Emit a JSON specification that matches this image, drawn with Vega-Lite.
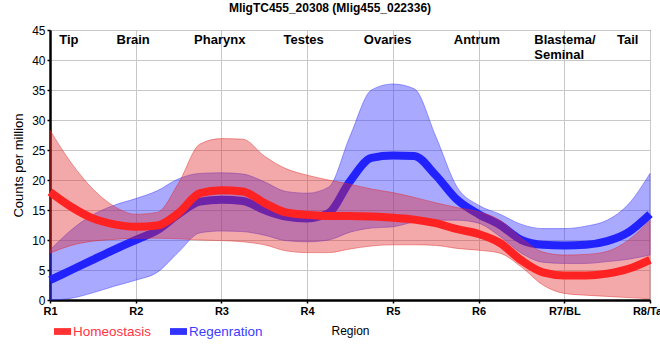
{
  "$schema": "https://vega.github.io/schema/vega-lite/v6.json",
  "width": 600,
  "height": 270,
  "autosize": {"type": "none"},
  "padding": {"left": 50, "top": 30, "right": 10, "bottom": 60},
  "background": "white",
  "config": {
    "font": "Liberation Sans",
    "view": {"stroke": "black", "strokeWidth": 1},
    "axisY": {"tickCount": 10, "labelOverlap": false},
    "axisX": {"labelOverlap": false}
  },
  "title": {
    "text": "MligTC455_20308 (Mlig455_022336)",
    "fontSize": 12,
    "fontWeight": "bold",
    "color": "black",
    "offset": 9,
    "dx": -20,
    "anchor": "middle"
  },
  "datasets": {
    "curves": [
      {"r": 1.0, "s": "Homeostasis", "m": 18.0, "lo": 7.8, "hi": 28.3},
      {"r": 1.25, "s": "Homeostasis", "m": 15.5, "lo": 9.1, "hi": 22.8},
      {"r": 1.5, "s": "Homeostasis", "m": 13.6, "lo": 9.8, "hi": 18.5},
      {"r": 1.75, "s": "Homeostasis", "m": 12.6, "lo": 10.1, "hi": 15.6},
      {"r": 2.0, "s": "Homeostasis", "m": 12.2, "lo": 10.3, "hi": 14.3},
      {"r": 2.25, "s": "Homeostasis", "m": 12.4, "lo": 10.3, "hi": 14.6},
      {"r": 2.5, "s": "Homeostasis", "m": 14.5, "lo": 10.2, "hi": 19.5},
      {"r": 2.75, "s": "Homeostasis", "m": 17.8, "lo": 10.0, "hi": 26.0},
      {"r": 3.0, "s": "Homeostasis", "m": 18.3, "lo": 9.9, "hi": 26.9},
      {"r": 3.25, "s": "Homeostasis", "m": 18.1, "lo": 9.7, "hi": 26.8},
      {"r": 3.5, "s": "Homeostasis", "m": 16.2, "lo": 9.2, "hi": 24.0},
      {"r": 3.75, "s": "Homeostasis", "m": 14.6, "lo": 8.2, "hi": 21.9},
      {"r": 4.0, "s": "Homeostasis", "m": 14.2, "lo": 7.9, "hi": 20.8},
      {"r": 4.25, "s": "Homeostasis", "m": 14.0, "lo": 7.9, "hi": 20.0},
      {"r": 4.5, "s": "Homeostasis", "m": 14.0, "lo": 8.5, "hi": 19.3},
      {"r": 4.75, "s": "Homeostasis", "m": 13.9, "lo": 9.0, "hi": 18.5},
      {"r": 5.0, "s": "Homeostasis", "m": 13.7, "lo": 9.2, "hi": 17.9},
      {"r": 5.25, "s": "Homeostasis", "m": 13.4, "lo": 9.2, "hi": 17.1},
      {"r": 5.5, "s": "Homeostasis", "m": 12.8, "lo": 9.1, "hi": 16.2},
      {"r": 5.75, "s": "Homeostasis", "m": 11.8, "lo": 8.6, "hi": 15.4},
      {"r": 6.0, "s": "Homeostasis", "m": 11.0, "lo": 8.3, "hi": 14.7},
      {"r": 6.25, "s": "Homeostasis", "m": 9.5, "lo": 7.8, "hi": 13.3},
      {"r": 6.5, "s": "Homeostasis", "m": 6.6, "lo": 5.5, "hi": 10.3},
      {"r": 6.75, "s": "Homeostasis", "m": 4.6, "lo": 2.5, "hi": 8.0},
      {"r": 7.0, "s": "Homeostasis", "m": 4.1, "lo": 1.1, "hi": 7.5},
      {"r": 7.25, "s": "Homeostasis", "m": 4.1, "lo": 0.8, "hi": 7.6},
      {"r": 7.5, "s": "Homeostasis", "m": 4.4, "lo": 0.6, "hi": 8.1},
      {"r": 7.75, "s": "Homeostasis", "m": 5.2, "lo": 0.4, "hi": 10.0},
      {"r": 8.0, "s": "Homeostasis", "m": 6.7, "lo": 0.2, "hi": 13.3},
      {"r": 1.0, "s": "Regenration", "m": 3.3, "lo": 0.0, "hi": 8.3},
      {"r": 1.25, "s": "Regenration", "m": 5.0, "lo": 0.3, "hi": 11.7},
      {"r": 1.5, "s": "Regenration", "m": 6.7, "lo": 1.2, "hi": 14.2},
      {"r": 1.75, "s": "Regenration", "m": 8.4, "lo": 2.3, "hi": 15.8},
      {"r": 2.0, "s": "Regenration", "m": 10.0, "lo": 3.3, "hi": 16.9},
      {"r": 2.25, "s": "Regenration", "m": 11.6, "lo": 4.6, "hi": 18.2},
      {"r": 2.5, "s": "Regenration", "m": 14.3, "lo": 8.0, "hi": 20.2},
      {"r": 2.75, "s": "Regenration", "m": 16.4, "lo": 11.2, "hi": 21.1},
      {"r": 3.0, "s": "Regenration", "m": 16.7, "lo": 11.5, "hi": 21.2},
      {"r": 3.25, "s": "Regenration", "m": 16.5, "lo": 11.4, "hi": 21.0},
      {"r": 3.5, "s": "Regenration", "m": 15.0, "lo": 10.8, "hi": 19.7},
      {"r": 3.75, "s": "Regenration", "m": 13.9, "lo": 9.9, "hi": 18.1},
      {"r": 4.0, "s": "Regenration", "m": 13.6, "lo": 9.7, "hi": 17.8},
      {"r": 4.25, "s": "Regenration", "m": 14.5, "lo": 10.0, "hi": 18.8},
      {"r": 4.5, "s": "Regenration", "m": 19.8, "lo": 11.3, "hi": 27.3},
      {"r": 4.75, "s": "Regenration", "m": 23.7, "lo": 12.0, "hi": 35.0},
      {"r": 5.0, "s": "Regenration", "m": 24.1, "lo": 12.2, "hi": 36.0},
      {"r": 5.25, "s": "Regenration", "m": 24.0, "lo": 13.0, "hi": 35.2},
      {"r": 5.5, "s": "Regenration", "m": 20.8, "lo": 13.3, "hi": 27.3},
      {"r": 5.75, "s": "Regenration", "m": 16.7, "lo": 13.3, "hi": 18.8},
      {"r": 6.0, "s": "Regenration", "m": 14.3, "lo": 12.8, "hi": 15.8},
      {"r": 6.25, "s": "Regenration", "m": 12.5, "lo": 10.6, "hi": 14.3},
      {"r": 6.5, "s": "Regenration", "m": 10.0, "lo": 7.8, "hi": 12.6},
      {"r": 6.75, "s": "Regenration", "m": 9.2, "lo": 6.3, "hi": 11.9},
      {"r": 7.0, "s": "Regenration", "m": 9.1, "lo": 6.1, "hi": 11.9},
      {"r": 7.25, "s": "Regenration", "m": 9.2, "lo": 6.1, "hi": 12.3},
      {"r": 7.5, "s": "Regenration", "m": 9.8, "lo": 6.4, "hi": 13.3},
      {"r": 7.75, "s": "Regenration", "m": 11.3, "lo": 6.8, "hi": 16.0},
      {"r": 8.0, "s": "Regenration", "m": 14.3, "lo": 7.5, "hi": 21.1}
    ],
    "regions": [
      {"name": "Tip", "pos": 1.22, "left": false},
      {"name": "Brain", "pos": 1.97, "left": false},
      {"name": "Pharynx", "pos": 2.98, "left": false},
      {"name": "Testes", "pos": 3.96, "left": false},
      {"name": "Ovaries", "pos": 4.94, "left": false},
      {"name": "Antrum", "pos": 5.98, "left": false},
      {"name": "Blastema/\nSeminal", "pos": 6.65, "left": true},
      {"name": "Tail", "pos": 7.74, "left": false}
    ]
  },
  "layer": [
    {
      "data": {"name": "curves"},
      "transform": [{"filter": "datum.s === 'Regenration'"}],
      "mark": {"type": "area", "interpolate": "monotone", "fill": "#3333ff", "fillOpacity": 0.42, "stroke": "#3333ff", "strokeOpacity": 0.45, "strokeWidth": 1},
      "encoding": {
        "x": {
          "field": "r", "type": "quantitative",
          "scale": {"domain": [1, 8], "nice": false, "zero": false},
          "axis": {
            "values": [1, 2, 3, 4, 5, 6, 7, 8],
            "labelExpr": "['R1','R2','R3','R4','R5','R6','R7/BL','R8/Tail'][datum.value - 1]",
            "labelFontWeight": "bold", "labelFontSize": 11, "labelColor": "black",
            "labelPadding": 2, "labelFlush": false, "labelOverlap": false,
            "domainColor": "black", "domainWidth": 2.5,
            "tickColor": "black", "tickSize": 3, "tickWidth": 1.5,
            "gridColor": "#c8c8c8", "gridWidth": 1, "gridOpacity": 1,
            "title": "Region", "titleFontSize": 12, "titleFontWeight": "normal", "titleColor": "black",
            "titlePadding": 9
          }
        },
        "y": {
          "field": "lo", "type": "quantitative",
          "scale": {"domain": [0, 45], "nice": false, "zero": true},
          "axis": {
            "values": [0, 5, 10, 15, 20, 25, 30, 35, 40, 45],
            "labelFontSize": 12, "labelColor": "black", "labelPadding": 2, "labelOverlap": false,
            "domainColor": "black", "domainWidth": 2.5,
            "tickColor": "black", "tickSize": 3, "tickWidth": 1.5,
            "gridColor": "#c8c8c8", "gridWidth": 1, "gridOpacity": 1,
            "title": "Counts per million", "titleFontSize": 13, "titleFontWeight": "normal", "titleColor": "black",
            "titlePadding": 6
          }
        },
        "y2": {"field": "hi"}
      }
    },
    {
      "data": {"name": "curves"},
      "transform": [{"filter": "datum.s === 'Regenration'"}],
      "mark": {"type": "line", "interpolate": "monotone", "strokeWidth": 8},
      "encoding": {
        "x": {"field": "r", "type": "quantitative"},
        "y": {"field": "m", "type": "quantitative"},
        "color": {
          "field": "s", "type": "nominal",
          "scale": {"domain": ["Homeostasis", "Regenration"], "range": ["#ff2222", "#2222ff"]},
          "legend": {
            "orient": "none", "legendX": 4, "legendY": 293, "direction": "horizontal",
            "title": null, "labelFontSize": 13.5, "labelFont": "Liberation Sans",
            "symbolType": "M-1,-0.4H1V0.4H-1Z", "symbolSize": 289, "columnPadding": 18, "labelOffset": 2,
            "encode": {
              "symbols": {"update": {"fill": {"signal": "datum.value === 'Homeostasis' ? '#ff3333' : '#3333ff'"}, "stroke": {"value": "transparent"}, "opacity": {"value": 1}, "strokeWidth": {"value": 0}}},
              "labels": {"update": {"fill": {"signal": "datum.value === 'Homeostasis' ? '#ff3344' : '#3b3bff'"}}}
            }
          }
        }
      }
    },
    {
      "data": {"name": "curves"},
      "transform": [{"filter": "datum.s === 'Homeostasis'"}],
      "mark": {"type": "area", "interpolate": "monotone", "fill": "#e02828", "fillOpacity": 0.4, "stroke": "#e02828", "strokeOpacity": 0.45, "strokeWidth": 1},
      "encoding": {
        "x": {"field": "r", "type": "quantitative"},
        "y": {"field": "lo", "type": "quantitative"},
        "y2": {"field": "hi"}
      }
    },
    {
      "data": {"name": "curves"},
      "transform": [{"filter": "datum.s === 'Homeostasis'"}],
      "mark": {"type": "line", "interpolate": "monotone", "strokeWidth": 8},
      "encoding": {
        "x": {"field": "r", "type": "quantitative"},
        "y": {"field": "m", "type": "quantitative"},
        "color": {"field": "s", "type": "nominal"}
      }
    },
    {
      "mark": {"type": "rule", "color": "black", "strokeWidth": 2.5, "strokeDash": [7, 5]},
      "encoding": {"x": {"datum": 7.5}}
    },
    {
      "data": {"name": "regions"},
      "transform": [{"filter": "!datum.left"}],
      "mark": {"type": "text", "fontSize": 13, "fontWeight": "bold", "color": "black", "align": "center", "baseline": "middle"},
      "encoding": {
        "x": {"field": "pos", "type": "quantitative"},
        "y": {"datum": 43.3},
        "text": {"field": "name"}
      }
    },
    {
      "data": {"name": "regions"},
      "transform": [{"filter": "datum.left"}],
      "mark": {"type": "text", "fontSize": 13, "fontWeight": "bold", "color": "black", "align": "left", "baseline": "middle", "lineBreak": "\n", "lineHeight": 15},
      "encoding": {
        "x": {"field": "pos", "type": "quantitative"},
        "y": {"datum": 43.3},
        "text": {"field": "name"}
      }
    }
  ]
}
